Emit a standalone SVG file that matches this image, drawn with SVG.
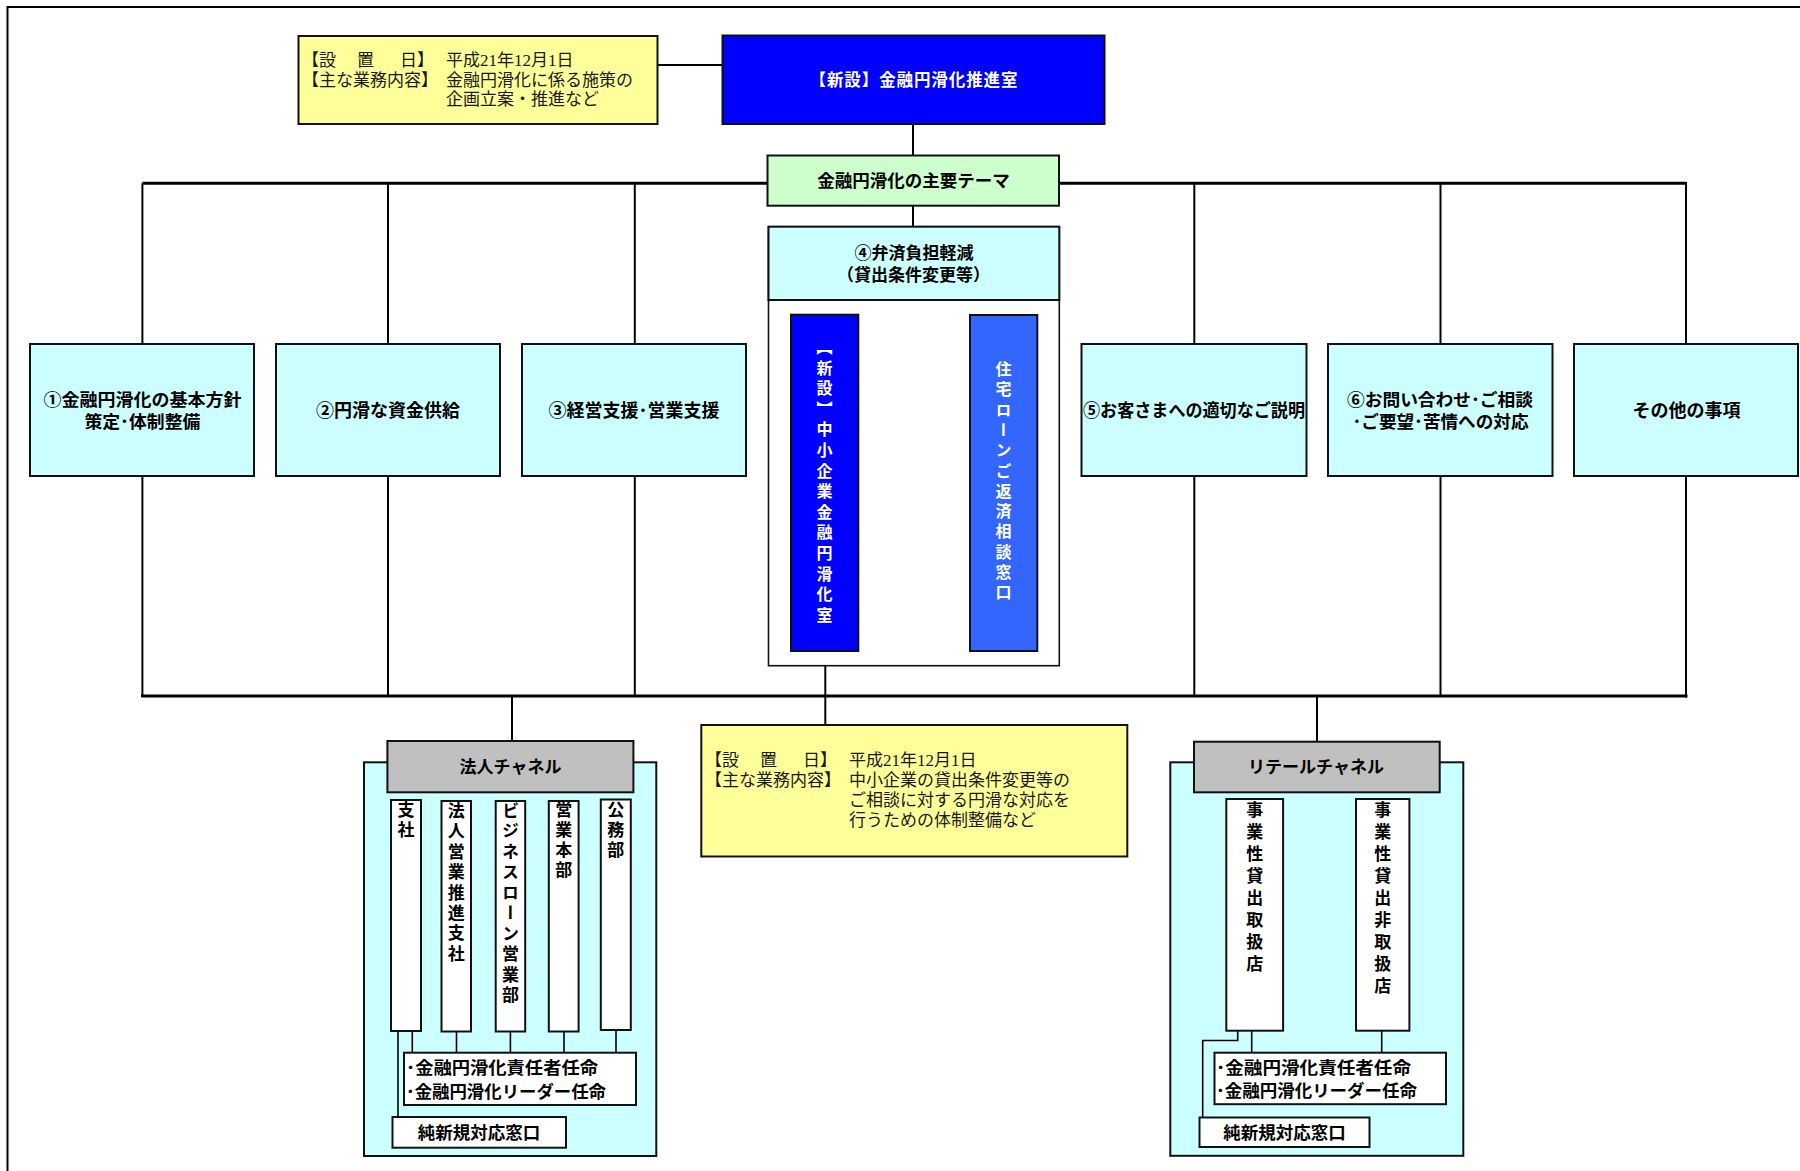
<svg xmlns="http://www.w3.org/2000/svg" width="1800" height="1171" viewBox="0 0 1800 1171">
  <defs>
    <style>
      .box { stroke: #111; stroke-width: 2; }
      .thin { stroke: #111; stroke-width: 1.6; }
      .yellow { fill: #FFFF99; }
      .blue { fill: #0000FF; }
      .blue2 { fill: #3366FF; }
      .green { fill: #CCFFCC; }
      .cyan { fill: #CCFFFF; }
      .gray { fill: #C0C0C0; }
      .white { fill: #FFFFFF; }
      .line { stroke: #000; stroke-width: 2; fill: none; }
      .bus { stroke: #000; stroke-width: 3; fill: none; }
      .fine { stroke: #000; stroke-width: 1.6; fill: none; }
      .g { font-family: "Noto Sans CJK JP", "Noto Sans", sans-serif; font-weight: bold; fill: #000; }
      .m { font-family: "Liberation Serif", "Noto Sans CJK JP", serif; font-weight: normal; fill: #1a1a1a; font-size: 17px; }
      .c { text-anchor: middle; dominant-baseline: central; }
      .l { dominant-baseline: central; }
      .w { fill: #FFFFFF; }
      .v { writing-mode: vertical-rl; text-anchor: start; }
    </style>
  </defs>

  <rect x="0" y="0" width="1800" height="1171" fill="#FFFFFF"/>

  <!-- page frame (right and bottom edges fall outside the sheet) -->
  <g id="frame">
    <line x1="7.5" y1="7" x2="1800" y2="7" stroke="#000" stroke-width="2.2"/>
    <line x1="7.5" y1="6" x2="7.5" y2="1171" stroke="#000" stroke-width="2"/>
  </g>

  <!-- channel containers sit under the connectors -->
  <g id="houjin-channel-frame">
    <rect class="cyan box" x="364" y="762.3" width="292.3" height="393.7"/>
  </g>
  <g id="retail-channel-frame">
    <rect class="cyan box" x="1170.3" y="762.3" width="293" height="393.5"/>
  </g>

  <g id="connectors">
    <!-- office memo to office -->
    <line class="line" x1="657.7" y1="65" x2="722.5" y2="65" stroke-width="2.5"/>
    <!-- office to theme header -->
    <line class="line" x1="913" y1="124" x2="913" y2="155.5"/>
    <!-- upper bus -->
    <line class="bus" x1="142.4" y1="183.3" x2="1686" y2="183.3"/>
    <line class="line" x1="142.4" y1="183.3" x2="142.4" y2="344"/>
    <line class="line" x1="388" y1="183.3" x2="388" y2="344"/>
    <line class="line" x1="634.8" y1="183.3" x2="634.8" y2="344"/>
    <line class="line" x1="1194.3" y1="183.3" x2="1194.3" y2="344"/>
    <line class="line" x1="1440.5" y1="183.3" x2="1440.5" y2="344"/>
    <line class="line" x1="1686" y1="182" x2="1686" y2="344"/>
    <line class="line" x1="913" y1="205.7" x2="913" y2="226.7"/>
    <!-- lower bus -->
    <line class="line" x1="142.4" y1="476" x2="142.4" y2="696"/>
    <line class="line" x1="388" y1="476" x2="388" y2="696"/>
    <line class="line" x1="634.8" y1="476" x2="634.8" y2="696"/>
    <line class="line" x1="1194.3" y1="476" x2="1194.3" y2="696"/>
    <line class="line" x1="1440.5" y1="476" x2="1440.5" y2="696"/>
    <line class="line" x1="1686" y1="476" x2="1686" y2="697.5"/>
    <line class="bus" x1="141" y1="696" x2="1687.5" y2="696"/>
    <!-- SME office to its memo -->
    <line class="line" x1="825.3" y1="651" x2="825.3" y2="725" stroke-width="2.6"/>
    <!-- bus to the two channels -->
    <line class="line" x1="512" y1="696" x2="512" y2="741"/>
    <line class="line" x1="1317" y1="696" x2="1317" y2="741.7"/>
    <!-- corporate channel inner links -->
    <line class="fine" x1="412.3" y1="1031" x2="412.3" y2="1052.7"/>
    <line class="fine" x1="456.5" y1="1031" x2="456.5" y2="1052.7"/>
    <line class="fine" x1="510.4" y1="1031" x2="510.4" y2="1052.7"/>
    <line class="fine" x1="564" y1="1031" x2="564" y2="1052.7"/>
    <line class="fine" x1="616" y1="1030" x2="616" y2="1052.7"/>
    <line class="fine" x1="398" y1="1031" x2="398" y2="1117"/>
    <!-- retail channel inner links -->
    <line class="fine" x1="1251.7" y1="1030.7" x2="1251.7" y2="1052.7"/>
    <line class="fine" x1="1381.7" y1="1030.7" x2="1381.7" y2="1052.7"/>
    <polyline class="fine" points="1237.7,1030.7 1237.7,1040.5 1202.7,1040.5 1202.7,1117.5"/>
  </g>

  <!-- office memo -->
  <g id="memo-office">
    <rect class="yellow box" x="298.5" y="36" width="359" height="88"/>
    <text class="m l" y="59.5"><tspan x="302">【設</tspan><tspan x="357">置</tspan><tspan x="400">日】</tspan><tspan x="446">平成21年12月1日</tspan></text>
    <text class="m l" y="79.5"><tspan x="302">【主な業務内容】</tspan><tspan x="446">金融円滑化に係る施策の</tspan></text>
    <text class="m l" x="446" y="99.5">企画立案・推進など</text>
  </g>

  <g id="node-office">
    <rect class="blue box" x="722.5" y="35.5" width="382" height="88.5"/>
    <text class="g c w" x="913.5" y="79" font-size="16.5" textLength="208">【新設】金融円滑化推進室</text>
  </g>

  <g id="node-themes">
    <rect class="green box" x="767.5" y="155.5" width="291.5" height="50.2"/>
    <text class="g c" x="913.5" y="179.5" font-size="17.5">金融円滑化の主要テーマ</text>
  </g>

  <g id="node-theme1">
    <rect class="cyan box" x="30" y="344" width="224" height="132"/>
    <text class="g c" x="142.4" y="398.5" font-size="17.5" textLength="198" lengthAdjust="spacingAndGlyphs">①金融円滑化の基本方針</text>
    <text class="g c" x="142.4" y="420" font-size="17.5" textLength="116" lengthAdjust="spacingAndGlyphs">策定･体制整備</text>
  </g>

  <g id="node-theme2">
    <rect class="cyan box" x="276" y="344" width="224" height="132"/>
    <text class="g c" x="388" y="408.5" font-size="18">②円滑な資金供給</text>
  </g>

  <g id="node-theme3">
    <rect class="cyan box" x="522" y="344" width="224" height="132"/>
    <text class="g c" x="634" y="408.5" font-size="18">③経営支援･営業支援</text>
  </g>

  <g id="node-theme4">
    <rect class="white thin" x="768.5" y="226.7" width="290.8" height="439"/>
    <rect class="cyan box" x="768.5" y="226.7" width="290.8" height="73.3"/>
    <text class="g c" x="914" y="251.5" font-size="17">④弁済負担軽減</text>
    <text class="g c" x="913.5" y="273" font-size="17">（貸出条件変更等）</text>
  </g>

  <g id="node-sme-office">
    <rect class="blue box" x="791" y="314.7" width="67.3" height="336.3"/>
    <text class="g v w" x="824.6" y="339" font-size="16" letter-spacing="4.6">【新設】中小企業金融円滑化室</text>
  </g>

  <g id="node-housing-loan">
    <rect class="blue2 box" x="970" y="315" width="67.3" height="336"/>
    <text class="g v w" x="1003.6" y="361" font-size="16" letter-spacing="4.3">住宅ローンご返済相談窓口</text>
  </g>

  <g id="node-theme5">
    <rect class="cyan box" x="1081.5" y="344" width="225" height="132"/>
    <text class="g c" x="1194" y="408.5" font-size="18" textLength="222" lengthAdjust="spacingAndGlyphs">⑤お客さまへの適切なご説明</text>
  </g>

  <g id="node-theme6">
    <rect class="cyan box" x="1328" y="344" width="224.5" height="132"/>
    <text class="g c" x="1440" y="398.5" font-size="17.5" textLength="186" lengthAdjust="spacingAndGlyphs">⑥お問い合わせ･ご相談</text>
    <text class="g c" x="1440.5" y="420" font-size="17.5" textLength="176" lengthAdjust="spacingAndGlyphs">･ご要望･苦情への対応</text>
  </g>

  <g id="node-other">
    <rect class="cyan box" x="1574" y="344" width="224" height="132"/>
    <text class="g c" x="1686.5" y="408.5" font-size="18">その他の事項</text>
  </g>

  <!-- SME office memo -->
  <g id="memo-sme-office">
    <rect class="yellow box" x="701.3" y="725" width="426" height="131.5"/>
    <text class="m l" y="760"><tspan x="705">【設</tspan><tspan x="760">置</tspan><tspan x="803">日】</tspan><tspan x="849">平成21年12月1日</tspan></text>
    <text class="m l" y="780.3"><tspan x="705">【主な業務内容】</tspan><tspan x="849">中小企業の貸出条件変更等の</tspan></text>
    <text class="m l" x="849" y="800.5">ご相談に対する円滑な対応を</text>
    <text class="m l" x="849" y="820.8">行うための体制整備など</text>
  </g>

  <!-- corporate channel -->
  <g id="node-houjin-channel">
    <rect class="gray box" x="387.4" y="741" width="246" height="51.3"/>
    <text class="g c" x="510.5" y="765.5" font-size="17">法人チャネル</text>
  </g>
  <g id="node-shisha">
    <rect class="white box" x="391" y="800" width="30" height="231"/>
    <text class="g v" x="406" y="801" font-size="17" letter-spacing="3">支社</text>
  </g>
  <g id="node-houjin-eigyo">
    <rect class="white box" x="441.5" y="801" width="29.5" height="230.5"/>
    <text class="g v" x="456.3" y="802" font-size="17" letter-spacing="3.4">法人営業推進支社</text>
  </g>
  <g id="node-business-loan">
    <rect class="white box" x="495.7" y="801" width="29.5" height="230.5"/>
    <text class="g v" x="510.4" y="802" font-size="17" letter-spacing="3.5">ビジネスローン営業部</text>
  </g>
  <g id="node-eigyo-honbu">
    <rect class="white box" x="548.8" y="801" width="29.8" height="230.5"/>
    <text class="g v" x="563.7" y="801" font-size="17" letter-spacing="3">営業本部</text>
  </g>
  <g id="node-koumu">
    <rect class="white box" x="600.8" y="799.5" width="30" height="230.5"/>
    <text class="g v" x="615.8" y="801" font-size="17" letter-spacing="3">公務部</text>
  </g>
  <g id="node-houjin-appoint">
    <rect class="white box" x="404" y="1052.7" width="232" height="52.3"/>
    <text class="g l" x="406" y="1066.8" font-size="16.5" textLength="192" lengthAdjust="spacingAndGlyphs">･金融円滑化責任者任命</text>
    <text class="g l" x="406" y="1090.5" font-size="16.5" textLength="200" lengthAdjust="spacingAndGlyphs">･金融円滑化リーダー任命</text>
  </g>
  <g id="node-houjin-new">
    <rect class="white box" x="392.5" y="1117" width="173.5" height="30.7"/>
    <text class="g c" x="479" y="1131.5" font-size="17.5">純新規対応窓口</text>
  </g>

  <!-- retail channel -->
  <g id="node-retail-channel">
    <rect class="gray box" x="1194" y="741.7" width="245.7" height="50.6"/>
    <text class="g c" x="1316" y="765.5" font-size="17">リテールチャネル</text>
  </g>
  <g id="node-retail-lending">
    <rect class="white box" x="1226.3" y="799" width="56.8" height="231.7"/>
    <text class="g v" x="1254.7" y="801" font-size="17" letter-spacing="5">事業性貸出取扱店</text>
  </g>
  <g id="node-retail-nonlending">
    <rect class="white box" x="1356" y="799" width="53.4" height="231.7"/>
    <text class="g v" x="1382.7" y="801" font-size="17" letter-spacing="5">事業性貸出非取扱店</text>
  </g>
  <g id="node-retail-appoint">
    <rect class="white box" x="1214.5" y="1052.7" width="231.5" height="51.5"/>
    <text class="g l" x="1216" y="1066.8" font-size="16.5" textLength="195" lengthAdjust="spacingAndGlyphs">･金融円滑化責任者任命</text>
    <text class="g l" x="1216" y="1090.3" font-size="16.5" textLength="201" lengthAdjust="spacingAndGlyphs">･金融円滑化リーダー任命</text>
  </g>
  <g id="node-retail-new">
    <rect class="white box" x="1199.5" y="1117.5" width="170" height="29.5"/>
    <text class="g c" x="1284.5" y="1131.3" font-size="17.5">純新規対応窓口</text>
  </g>
</svg>
